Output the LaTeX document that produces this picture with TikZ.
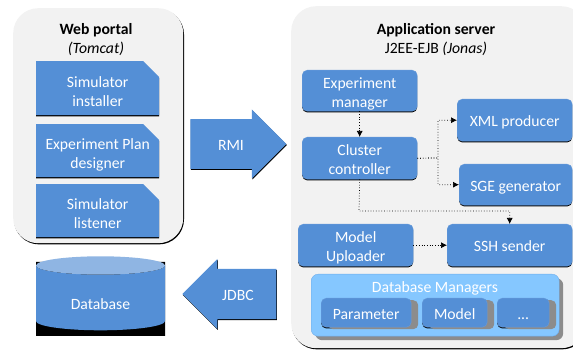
\documentclass[tikz,border=0pt]{standalone}
\usepackage{fontspec}
\setmainfont{Carlito}
\usetikzlibrary{arrows.meta}
\usetikzlibrary{shapes.misc,shapes.arrows,shapes.geometric}
\usetikzlibrary{shadows}
\definecolor{blockColor}{rgb}{0.33,0.56,0.84}
\definecolor{panelColor}{rgb}{0.95,0.95,0.95}
\definecolor{managerColor}{rgb}{0.52,0.78,1.0}
\definecolor{topColor}{rgb}{0.56,0.71,0.89}
\tikzset{
  mytext/.style={font=\fontsize{15.7}{19}\selectfont, align=center},
  myone/.style={text height=13pt, text depth=0pt},
  mytwo/.style={text height=33pt, text depth=0pt},
  mypanel/.style={fill=panelColor, rounded corners=25pt, anchor=north west, general shadow={shadow xshift=0.8pt, shadow yshift=-1.2pt, fill=black}},
  myhead/.style={mytext, text=black},
  myblock/.style={mytext, text=white, fill=blockColor, rounded corners=5pt, draw=blockColor!90!white, line width=0.4pt, anchor=north west, inner sep=0pt, general shadow={shadow xshift=0pt, shadow yshift=-1.2pt, fill=black}},
  mysub/.style={myblock, myone, general shadow={shadow xshift=7pt, shadow yshift=-2pt, fill=black!45}, minimum height=29pt},
  mysnip/.style={mytext, text height=36pt, text depth=0pt, text=white, fill=blockColor, chamfered rectangle, chamfered rectangle corners=north east, chamfered rectangle xsep=8pt, chamfered rectangle ysep=8pt, anchor=north west, inner sep=0pt, general shadow={shadow xshift=0pt, shadow yshift=-1.2pt, fill=black}},
  mygroup/.style={mytext, fill=managerColor, draw=blockColor!50!managerColor, rounded corners=7pt, line width=0.4pt, anchor=north west, inner sep=0pt, general shadow={shadow xshift=4pt, shadow yshift=-4pt, fill=black!45}},
  myarrow/.style={mytext, text=white, fill=blockColor, single arrow, single arrow head indent=0pt, inner xsep=0pt, inner ysep=11pt, text height=14pt, text depth=0pt, general shadow={shadow xshift=0.5pt, shadow yshift=-1pt, fill=black}},
  mydrum/.style={cylinder, shape border rotate=90, aspect=0.31, minimum width=129pt, minimum height=74pt, inner sep=0pt},
  myflow/.style={dotted, line width=0.7pt, -{Latex[length=6pt,width=6pt]}}
}
\begin{document}
\begin{tikzpicture}[x=1pt,y=-1pt]
\useasboundingbox (0,0) rectangle (573,352);
\clip (0,0) rectangle (573,352);
  % panels
  \node[mypanel, minimum width=170pt, minimum height=235pt] (portal) at (13,8){};
  \node[mypanel, minimum width=295pt, minimum height=342pt] (server) at (291,6){};
  \node[myhead] (portalTitle) at (96,40){\textbf{Web portal}\\\textit{(Tomcat)}};
  \node[myhead] (serverTitle) at (436,40){\textbf{Application server}\\J2EE-EJB \textit{(Jonas)}};

  % web portal blocks
  \node[mysnip, minimum width=123pt, minimum height=54pt] (installer) at (36,61){Simulator\\installer};
  \node[mysnip, minimum width=123pt, minimum height=53pt] (designer) at (36,124){Experiment Plan\\designer};
  \node[mysnip, minimum width=123pt, minimum height=53pt] (listener) at (36,184){Simulator\\listener};

  % big arrows
  \node[myarrow, minimum width=69pt, minimum height=96pt, anchor=center] (rmi) at (226,144){\hspace*{10pt}RMI};
  \node[myarrow, minimum width=70pt, minimum height=94pt, shape border rotate=180, anchor=center] (jdbc) at (242,294){JDBC\hspace*{8pt}};

  % database
  \node[mydrum, fill=black] (databaseShadow) at (100.5,299){};
  \node[mydrum, mytext, text=white, text height=24pt, text depth=0pt, cylinder uses custom fill, cylinder body fill=blockColor, cylinder end fill=topColor] (database) at (100.5,298){Database};

  % application server blocks
  \node[myblock, mytwo, minimum width=115pt, minimum height=41pt] (manager) at (302,70){Experiment\\manager};
  \node[myblock, mytwo, minimum width=115pt, minimum height=42pt] (cluster) at (302,137){Cluster\\controller};
  \node[myblock, myone, minimum width=115pt, minimum height=42pt] (xml) at (457,99){XML producer};
  \node[myblock, myone, minimum width=113pt, minimum height=41pt] (sge) at (459,164){SGE generator};
  \node[myblock, mytwo, minimum width=115pt, minimum height=42pt] (uploader) at (298,224){Model\\Uploader};
  \node[myblock, myone, minimum width=125pt, minimum height=42pt] (ssh) at (447,224){SSH sender};

  % database managers
  \node[mygroup, minimum width=248pt, minimum height=62pt] (managers) at (311,274){};
  \node[mytext, text=white] (managersTitle) at (435,288.5){Database Managers};
  \node[mysub, minimum width=90pt] (parameter) at (321,298){Parameter};
  \node[mysub, minimum width=65pt] (model) at (422,298){Model};
  \node[mysub, minimum width=52pt] (other) at (497,298){...};

  % connectors
  \coordinate (fork) at (438,158);
  \coordinate (bend) at (359,211);
  \draw[myflow] (manager) -- (cluster);
  \draw[myflow] (cluster.east) -- (fork) |- (xml.west);
  \draw[myflow] (cluster.east) -- (fork) |- (sge.west);
  \draw[myflow] (cluster.south) -- (bend) -| (ssh.north);
  \draw[myflow] (uploader) -- (ssh);
\end{tikzpicture}
\end{document}
